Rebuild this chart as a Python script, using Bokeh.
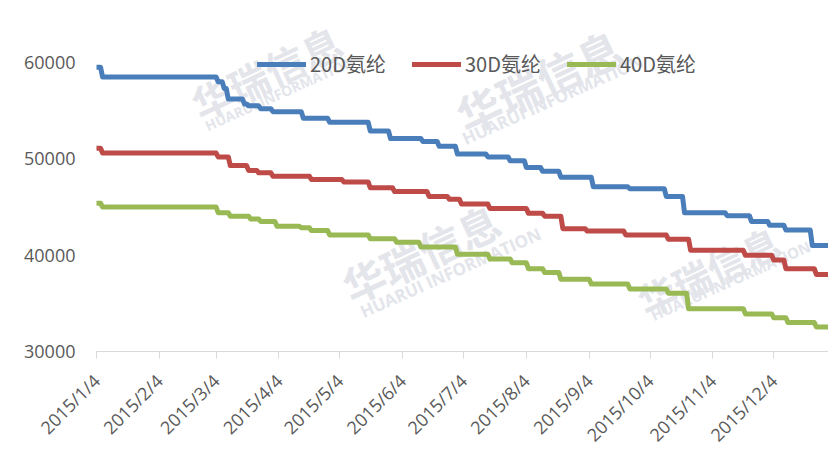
import math
from datetime import datetime, timedelta
from bokeh.plotting import figure
from bokeh.models import Range1d, FixedTicker, Legend, LegendItem, Label, ColumnDataSource
from bokeh.embed import file_html
from bokeh.resources import INLINE

# ---------------- data ----------------
series_names = ["20D氨纶", "30D氨纶", "40D氨纶"]
series_colors = ["#4A7EBB", "#BE4B48", "#98B954"]

dates_20d = ["2015-01-04", "2015-01-07", "2015-03-05", "2015-03-08", "2015-03-10", "2015-03-18",
             "2015-03-20", "2015-03-26", "2015-04-01", "2015-04-16", "2015-04-29", "2015-05-19",
             "2015-05-29", "2015-06-14", "2015-06-22", "2015-07-01", "2015-07-16", "2015-07-27",
             "2015-08-04", "2015-08-12", "2015-08-21", "2015-09-06", "2015-09-24", "2015-10-12",
             "2015-10-21", "2015-11-11", "2015-11-23", "2015-12-02", "2015-12-10", "2015-12-23",
             "2015-12-31"]
vals_20d = [59500, 58500, 58000, 57300, 56200, 55700,
            55500, 55200, 54900, 54200, 53800, 52900,
            52100, 51800, 51300, 50500, 50200, 49800,
            49100, 48700, 48100, 47100, 46900, 46100,
            44400, 44100, 43500, 43100, 42600, 41000,
            41000]

dates_30d = ["2015-01-04", "2015-01-07", "2015-03-05", "2015-03-11", "2015-03-20", "2015-03-25",
             "2015-04-01", "2015-04-20", "2015-05-06", "2015-05-19", "2015-05-31", "2015-06-17",
             "2015-06-27", "2015-07-03", "2015-07-17", "2015-08-05", "2015-08-13", "2015-08-22",
             "2015-09-03", "2015-09-22", "2015-10-13", "2015-10-24", "2015-11-20", "2015-12-04",
             "2015-12-10", "2015-12-25", "2015-12-31"]
vals_30d = [51100, 50600, 50200, 49300, 48800, 48550,
            48200, 47850, 47600, 47000, 46600, 46100,
            45800, 45300, 44850, 44350, 44050, 42750,
            42500, 42100, 41650, 40500, 40000, 39500,
            38600, 38000, 38000]

dates_40d = ["2015-01-04", "2015-01-07", "2015-03-05", "2015-03-11", "2015-03-21", "2015-03-26",
             "2015-04-03", "2015-04-15", "2015-04-20", "2015-04-29", "2015-05-19", "2015-06-01",
             "2015-06-13", "2015-07-01", "2015-07-17", "2015-07-28", "2015-08-05", "2015-08-13",
             "2015-08-21", "2015-09-05", "2015-09-24", "2015-10-13", "2015-10-23", "2015-11-20",
             "2015-12-04", "2015-12-11", "2015-12-25", "2015-12-31"]
vals_40d = [45400, 45000, 44400, 44050, 43750, 43500,
            43000, 42850, 42550, 42100, 41700, 41350,
            40850, 40100, 39600, 39200, 38600, 38200,
            37500, 37000, 36500, 36050, 34450, 33900,
            33500, 33000, 32550, 32550]

x_tick_labels = ["2015/1/4", "2015/2/4", "2015/3/4", "2015/4/4", "2015/5/4", "2015/6/4",
                 "2015/7/4", "2015/8/4", "2015/9/4", "2015/10/4", "2015/11/4", "2015/12/4"]
y_ticks = [30000, 40000, 50000, 60000]

watermark_cn = "华瑞信息"
watermark_en = "HUARUI INFORMATION"

# ---------------- helpers ----------------
def to_dt(s):
    return datetime.strptime(s, "%Y-%m-%d")

def to_ms(d):
    return (d - datetime(1970, 1, 1)).total_seconds() * 1000.0

def daily_hold(dates, vals):
    """Daily price series: each price holds until the day before the next change."""
    xs, ys = [to_dt(dates[0])], [vals[0]]
    for i in range(1, len(dates)):
        d = to_dt(dates[i])
        if vals[i] != vals[i - 1]:
            xs.append(d - timedelta(days=1))
            ys.append(vals[i - 1])
        xs.append(d)
        ys.append(vals[i])
    return xs, ys

tick_dates = [datetime.strptime(t, "%Y/%m/%d") for t in x_tick_labels]
tick_ms = [to_ms(d) for d in tick_dates]

# ---------------- layout ----------------
FONT_CJK = "Noto Sans CJK SC"
FONT = "Open Sans"
TXT = "#595959"
W, H = 828, 457
FRAME_LEFT, FRAME_TOP, FRAME_BOTTOM = 96, 4, 351
TOP_TICK_PX = 62          # pixel row of the top y tick (60000)
y_lo, y_hi_tick = y_ticks[0], y_ticks[-1]
y_end = y_hi_tick + (TOP_TICK_PX - FRAME_TOP) * (y_hi_tick - y_lo) / (FRAME_BOTTOM - TOP_TICK_PX)

p = figure(width=W, height=H, x_axis_type="datetime",
           output_backend="svg", toolbar_location=None,
           x_range=Range1d(to_dt("2015-01-04"), to_dt("2015-12-31")),
           y_range=Range1d(y_lo, y_end),
           min_border_left=FRAME_LEFT, min_border_right=0,
           min_border_top=FRAME_TOP, min_border_bottom=H - FRAME_BOTTOM)
p.outline_line_color = None
p.xgrid.grid_line_color = None
p.ygrid.grid_line_color = None
p.background_fill_color = "white"
p.border_fill_color = "white"

# watermarks (screen units relative to frame bottom-left)
wm_color = "#e3e5eb"
for (cx, cy, fs, efs, ex, ey) in [(170, 279, "40px", "14px", 183, 258),
                                  (442, 271, "44px", "17px", 456, 252),
                                  (324, 99, "42px", "17px", 354, 79),
                                  (612, 81, "38px", "15px", 634, 71)]:
    p.add_layout(Label(x=cx, y=cy, x_units="screen", y_units="screen", text=watermark_cn,
                       angle=0.44, text_font_size=fs, text_font_style="bold",
                       text_font=FONT_CJK, text_color=wm_color, text_align="center",
                       text_baseline="middle", level="underlay"))
    p.add_layout(Label(x=ex, y=ey, x_units="screen", y_units="screen", text=watermark_en,
                       angle=0.42, text_font_size=efs, text_font_style="bold",
                       text_font=FONT, text_color=wm_color, text_align="center",
                       text_baseline="middle", level="underlay"))

renderers = []
for name, color, ds, vs in [(series_names[0], series_colors[0], dates_20d, vals_20d),
                            (series_names[1], series_colors[1], dates_30d, vals_30d),
                            (series_names[2], series_colors[2], dates_40d, vals_40d)]:
    xs, ys = daily_hold(ds, vs)
    src = ColumnDataSource(dict(x=xs, y=ys))
    r = p.line("x", "y", source=src, line_width=5, line_color=color,
               line_join="round", line_cap="round")
    renderers.append((name, r))

legend = Legend(items=[LegendItem(label=n, renderers=[r]) for n, r in renderers],
                orientation="horizontal", location=(161, 273),
                glyph_width=49, glyph_height=20, label_height=20, label_standoff=4,
                spacing=26, padding=0, margin=0,
                label_text_font=FONT_CJK, label_text_font_size="20px", label_text_color=TXT,
                border_line_color=None, background_fill_alpha=0)
p.add_layout(legend, "center")

# x axis
xa = p.xaxis[0]
xa.ticker = FixedTicker(ticks=tick_ms)
xa.major_label_overrides = {t: lab for t, lab in zip(tick_ms, x_tick_labels)}
xa.major_label_orientation = math.pi / 4
xa.axis_line_color = "#D9D9D9"
xa.major_tick_line_color = "#D9D9D9"
xa.major_tick_out = 7
xa.major_tick_in = 0
xa.minor_tick_line_color = None
xa.major_label_text_font = FONT
xa.major_label_text_font_size = "18px"
xa.major_label_text_color = TXT
xa.major_label_standoff = 19

# y axis
ya = p.yaxis[0]
ya.ticker = FixedTicker(ticks=y_ticks)
ya.axis_line_color = None
ya.major_tick_line_color = None
ya.major_tick_out = 0
ya.major_tick_in = 0
ya.minor_tick_line_color = None
ya.major_label_text_font = FONT
ya.major_label_text_font_size = "18px"
ya.major_label_text_color = TXT
ya.major_label_standoff = 21

open("out.html", "w").write(file_html(p, INLINE))
